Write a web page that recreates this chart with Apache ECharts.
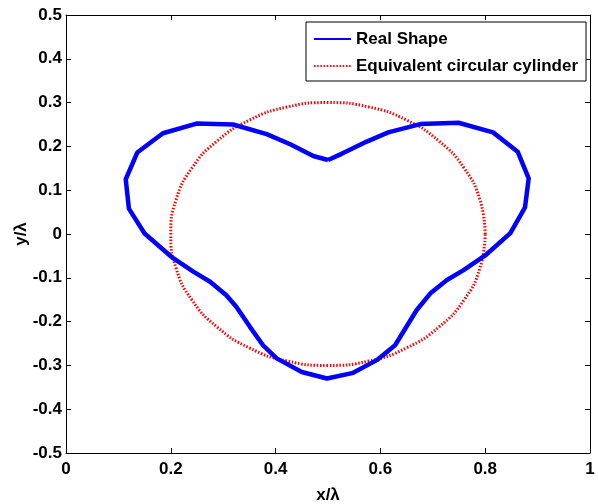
<!DOCTYPE html>
<html>
<head>
<meta charset="utf-8">
<script src="https://cdn.jsdelivr.net/npm/echarts@6/dist/echarts.min.js"></script>
<style>
  html, body { margin: 0; padding: 0; background: #fff; }
  #chart { width: 598px; height: 504px; }
</style>
</head>
<body>
<div id="chart"></div>
<script>
// 实际截面形状
const realShapeX = [0.500, 0.526, 0.574, 0.615, 0.676, 0.749, 0.815, 0.862, 0.883, 0.876, 0.848, 0.800, 0.758, 0.727, 0.695, 0.669, 0.628, 0.593, 0.548,
                    0.498, 0.450, 0.402, 0.376, 0.351, 0.325, 0.306, 0.275, 0.243, 0.201, 0.150, 0.120, 0.114, 0.136, 0.185, 0.249, 0.319, 0.383, 0.428, 0.472, 0.500];
const realShapeY = [0.169, 0.183, 0.211, 0.232, 0.251, 0.254, 0.232, 0.188, 0.127, 0.061, 0.002, -0.049, -0.083, -0.105, -0.136, -0.174, -0.254, -0.288, -0.317,
                    -0.330, -0.315, -0.284, -0.254, -0.212, -0.166, -0.140, -0.109, -0.086, -0.052, 0.001, 0.058, 0.125, 0.186, 0.230, 0.252, 0.250, 0.228, 0.205, 0.178, 0.169];

// 等效圆柱（半径 0.3，圆心 (0.5, 0)）
const circleX = [0.800, 0.790, 0.760, 0.712, 0.650, 0.578, 0.500, 0.422, 0.350, 0.288, 0.240, 0.210, 0.200,
                 0.210, 0.240, 0.288, 0.350, 0.422, 0.500, 0.578, 0.650, 0.712, 0.760, 0.790, 0.800];
const circleY = [0.000, 0.078, 0.150, 0.212, 0.260, 0.290, 0.300, 0.290, 0.260, 0.212, 0.150, 0.078, 0.000,
                 -0.078, -0.150, -0.212, -0.260, -0.290, -0.300, -0.290, -0.260, -0.212, -0.150, -0.078, 0.000];

const seriesNames = ['Real Shape', 'Equivalent circular cylinder'];

const zip = (xs, ys) => xs.map((x, i) => [x, ys[i]]);

const labelFont = { fontFamily: '"Liberation Sans", Arial, sans-serif', fontWeight: 'bold', fontSize: 17, color: '#000' };
const axisLine = { show: true, onZero: false, lineStyle: { color: '#000', width: 1 } };
const axisTick = { show: true, inside: true, length: 5, lineStyle: { color: '#000' } };

const chart = echarts.init(document.getElementById('chart'));
chart.setOption({
    animation: false,
    backgroundColor: '#fff',
    grid: { left: 66, right: 8, top: 15, bottom: 51, outerBoundsMode: 'none' },
    legend: {
        orient: 'vertical',
        left: 306,
        top: 22,
        padding: [7, 8, 5, 7],
        itemWidth: 37,
        itemHeight: 14,
        itemGap: 7,
        borderColor: '#000',
        borderWidth: 1,
        borderRadius: 0,
        backgroundColor: '#fff',
        itemStyle: { opacity: 0 },
        textStyle: { ...labelFont, lineHeight: 20 },
        data: seriesNames
    },
    xAxis: [
        {
            type: 'value', min: 0, max: 1, interval: 0.2,
            name: 'x/λ', nameLocation: 'middle', nameGap: 34, nameMoveOverlap: false,
            nameTextStyle: labelFont,
            axisLine, axisTick, splitLine: { show: false },
            axisLabel: { ...labelFont, margin: 8 }
        },
        {
            type: 'value', min: 0, max: 1, interval: 0.2, position: 'top',
            axisLine, axisTick, splitLine: { show: false }, axisLabel: { show: false }
        }
    ],
    yAxis: [
        {
            type: 'value', min: -0.5, max: 0.5, interval: 0.1,
            name: 'y/λ', nameLocation: 'middle', nameGap: 36, nameRotate: 90, nameMoveOverlap: false,
            nameTextStyle: labelFont,
            axisLine, axisTick, splitLine: { show: false },
            axisLabel: { ...labelFont, margin: 4 }
        },
        {
            type: 'value', min: -0.5, max: 0.5, interval: 0.1, position: 'right',
            axisLine, axisTick, splitLine: { show: false }, axisLabel: { show: false }
        }
    ],
    series: [
        {
            name: seriesNames[0],
            type: 'line',
            data: zip(realShapeX, realShapeY),
            symbol: 'none',
            lineStyle: { color: '#0000ff', width: 4.5 },
            itemStyle: { color: '#0000ff' },
            z: 3
        },
        {
            name: seriesNames[1],
            type: 'line',
            data: zip(circleX, circleY),
            symbol: 'none',
            smooth: true,
            lineStyle: { color: '#ff0000', width: 3, type: [1.5, 1.7] },
            itemStyle: { color: '#ff0000' },
            z: 2
        }
    ]
});
</script>
</body>
</html>
